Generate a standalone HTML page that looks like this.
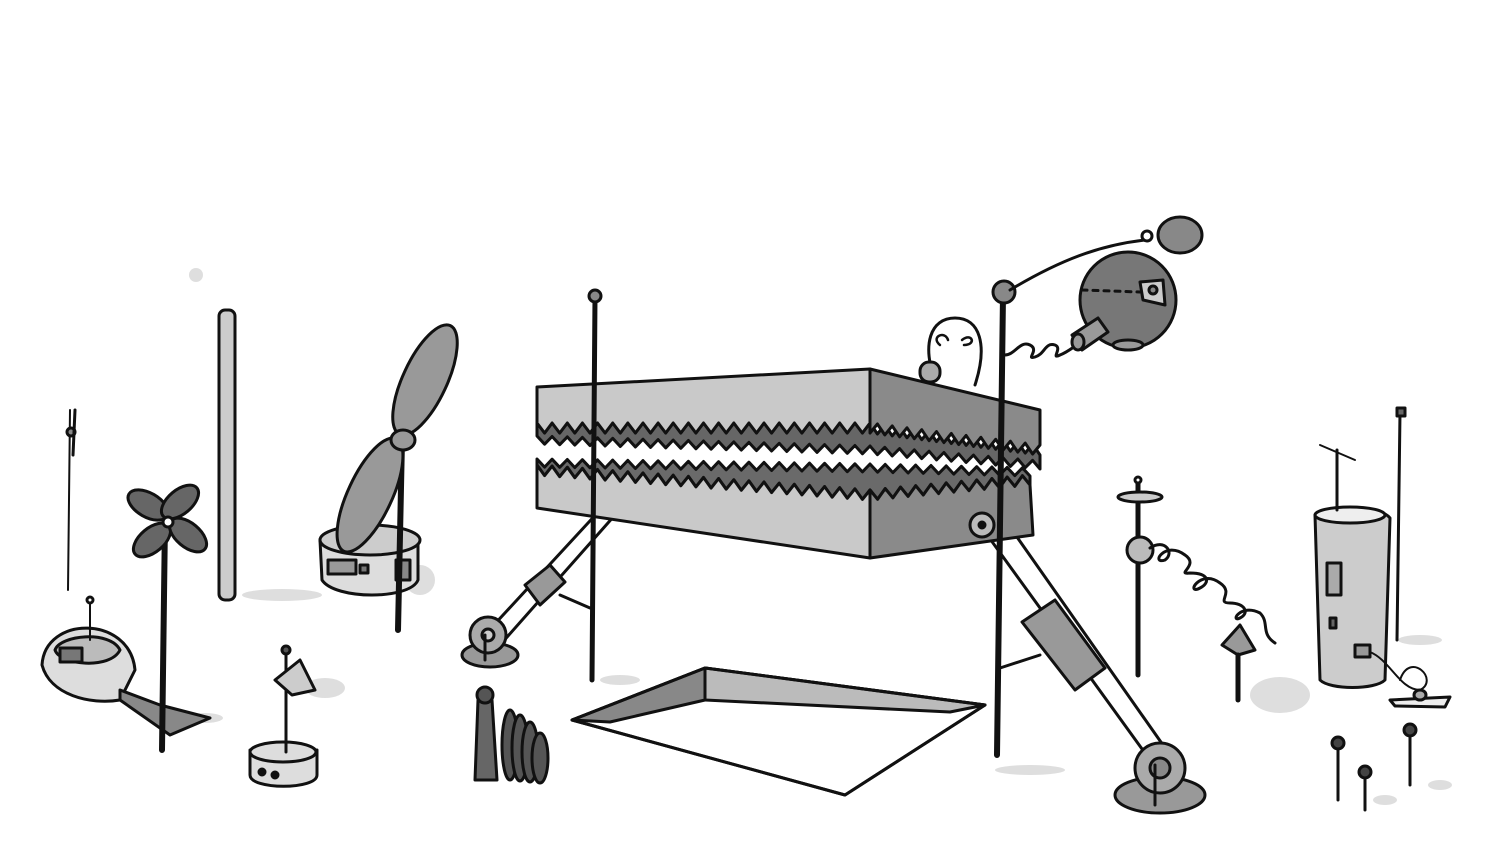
<!DOCTYPE html>
<html><head><meta charset="utf-8"><style>html,body{margin:0;padding:0;background:#fff}svg{display:block}</style></head>
<body>
<svg id="s" width="1500" height="844" viewBox="0 0 1500 844" xmlns="http://www.w3.org/2000/svg" stroke="#111" stroke-width="3" stroke-linejoin="round" stroke-linecap="round">
<g stroke="none" fill="#d6d6d6" opacity="0.8">
<ellipse cx="282" cy="595" rx="40" ry="6"/><ellipse cx="420" cy="580" rx="15" ry="15"/><ellipse cx="205" cy="718" rx="18" ry="5"/>
<ellipse cx="325" cy="688" rx="20" ry="10"/><ellipse cx="1280" cy="695" rx="30" ry="18"/><ellipse cx="1420" cy="640" rx="22" ry="5"/>
<ellipse cx="1440" cy="785" rx="12" ry="5"/><ellipse cx="1385" cy="800" rx="12" ry="5"/><ellipse cx="196" cy="275" rx="7" ry="7"/>
<ellipse cx="1030" cy="770" rx="35" ry="5"/><ellipse cx="620" cy="680" rx="20" ry="5"/>
</g>
<polygon points="572,720 705,668 985,705 845,795" fill="#fff"/>
<polygon points="572,720 705,668 705,700 610,722" fill="#888"/>
<polygon points="705,668 985,705 950,712 705,700" fill="#bbb"/>
<polygon points="572,720 705,668 985,705 845,795" fill="none"/>
<line x1="480" y1="640" x2="600" y2="510"/><line x1="500" y1="645" x2="615" y2="515"/>
<polygon points="525,585 550,565 565,582 540,605" fill="#999"/>
<line x1="560" y1="595" x2="590" y2="608"/>
<ellipse cx="490" cy="655" rx="28" ry="12" fill="#999"/><circle cx="488" cy="635" r="18" fill="#aaa"/><circle cx="488" cy="635" r="6" fill="#ccc"/>
<line x1="485" y1="635" x2="485" y2="660"/>
<line x1="980" y1="525" x2="1150" y2="760"/><line x1="1005" y1="520" x2="1170" y2="755"/>
<polygon points="1022,622 1055,600 1105,668 1075,690" fill="#999"/>
<line x1="1000" y1="668" x2="1040" y2="655"/>
<ellipse cx="1160" cy="795" rx="45" ry="18" fill="#999"/><circle cx="1160" cy="768" r="25" fill="#aaa"/><circle cx="1160" cy="768" r="10" fill="#888"/>
<line x1="1155" y1="765" x2="1155" y2="805"/>
<path d="M935,380 C922,345 930,318 955,318 C980,318 988,345 975,385" fill="#fff"/>
<path d="M940,345 c-10,-8 5,-15 8,-5 M962,340 c10,-8 15,5 2,5" fill="none" stroke-width="2.5"/>
<rect x="920" y="362" width="20" height="20" rx="9" fill="#aaa"/>
<g id="box"></g>
<circle cx="982" cy="525" r="12" fill="#bbb"/><circle cx="982" cy="525" r="3" fill="#111"/>
<line x1="595" y1="298" x2="592" y2="680" stroke-width="5"/><circle cx="595" cy="296" r="6" fill="#888"/>
<line x1="1003" y1="295" x2="997" y2="755" stroke-width="6"/><circle cx="1004" cy="292" r="11" fill="#888"/>
<path d="M1010,290 C1060,260 1100,245 1145,240" fill="none"/><circle cx="1147" cy="236" r="5" fill="#fff"/>
<path d="M1005,355 c10,0 15,-15 25,-10 c10,5 -5,15 5,12 c10,-3 10,-15 20,-12 c8,3 -5,15 5,10 c10,-4 15,-10 25,-15" fill="none"/>
<circle cx="1128" cy="300" r="48" fill="#777"/>
<ellipse cx="1180" cy="235" rx="22" ry="18" fill="#888"/>
<polygon points="1140,282 1163,280 1165,305 1143,300" fill="#ccc"/><circle cx="1153" cy="290" r="4" fill="#888"/>
<line x1="1082" y1="290" x2="1140" y2="292" stroke-dasharray="5 6"/>
<ellipse cx="1128" cy="345" rx="15" ry="5" fill="#999"/>
<polygon points="1072,335 1098,318 1108,332 1082,350" fill="#999"/><ellipse cx="1078" cy="342" rx="6" ry="8" fill="#999"/>
<line x1="70" y1="410" x2="68" y2="590" stroke-width="2"/><circle cx="71" cy="432" r="4" fill="#888"/>
<line x1="75" y1="410" x2="73" y2="455" stroke-width="3"/>
<rect x="219" y="310" width="16" height="290" rx="6" fill="#ccc"/>
<path d="M42,665 C45,615 130,615 135,670 L120,700 C90,705 50,695 42,665 Z" fill="#ddd"/>
<path d="M55,650 C60,635 110,630 120,650 C110,670 60,665 55,650 Z" fill="#bbb"/>
<rect x="60" y="648" width="22" height="14" fill="#777"/><line x1="90" y1="600" x2="90" y2="640" stroke-width="2"/><circle cx="90" cy="600" r="3" fill="#fff"/>
<polygon points="120,690 160,705 210,718 170,735 120,700" fill="#888"/>
<line x1="165" y1="520" x2="162" y2="750" stroke-width="6"/>
<g fill="#666"><ellipse cx="148" cy="505" rx="22" ry="12" transform="rotate(30 148 505)"/><ellipse cx="180" cy="502" rx="22" ry="12" transform="rotate(-40 180 502)"/><ellipse cx="152" cy="540" rx="22" ry="12" transform="rotate(-40 152 540)"/><ellipse cx="188" cy="535" rx="22" ry="12" transform="rotate(40 188 535)"/></g>
<circle cx="168" cy="522" r="5" fill="#fff"/>
<path d="M250,750 L250,775 C250,790 317,790 317,775 L317,750 Z" fill="#ddd"/><ellipse cx="283" cy="752" rx="33" ry="10" fill="#ddd"/>
<circle cx="262" cy="772" r="3" fill="#111"/><circle cx="275" cy="775" r="3" fill="#111"/>
<line x1="286" y1="650" x2="286" y2="752" stroke-width="3"/><circle cx="286" cy="650" r="4" fill="#555"/>
<polygon points="275,680 300,660 315,690 292,695" fill="#ccc"/>
<path d="M320,540 L322,580 C335,600 410,600 418,580 L418,540 Z" fill="#ddd"/><ellipse cx="370" cy="540" rx="50" ry="15" fill="#ccc"/>
<rect x="328" y="560" width="28" height="14" fill="#999"/><rect x="360" y="565" width="8" height="8" fill="#777"/><rect x="396" y="560" width="14" height="20" fill="#888"/>
<line x1="402" y1="440" x2="398" y2="630" stroke-width="6"/>
<ellipse cx="425" cy="380" rx="22" ry="60" fill="#999" transform="rotate(25 425 380)"/>
<ellipse cx="370" cy="495" rx="22" ry="62" fill="#999" transform="rotate(25 370 495)"/>
<ellipse cx="403" cy="440" rx="12" ry="10" fill="#999"/>
<path d="M475,780 L478,700 L492,700 L497,780 Z" fill="#666"/><circle cx="485" cy="695" r="8" fill="#555"/>
<g fill="#555"><ellipse cx="510" cy="745" rx="8" ry="35"/><ellipse cx="520" cy="748" rx="8" ry="33"/><ellipse cx="530" cy="752" rx="8" ry="30"/><ellipse cx="540" cy="758" rx="8" ry="25"/></g>
<line x1="1138" y1="480" x2="1138" y2="675" stroke-width="5"/><circle cx="1138" cy="480" r="3" fill="#fff"/>
<ellipse cx="1140" cy="497" rx="22" ry="5" fill="#ccc"/>
<circle cx="1140" cy="550" r="13" fill="#bbb"/>
<path d="M1150,548 c15,-10 25,5 15,12 c-15,5 0,-20 20,-5 c15,10 -10,20 5,18 c20,0 20,10 10,15 c-15,8 0,-20 20,-5 c15,10 -5,20 10,20 c15,0 20,10 10,15 c-10,5 0,-15 20,-5 c10,10 0,20 15,30" fill="none"/>
<polygon points="1222,645 1240,625 1255,650 1238,655" fill="#999"/><line x1="1238" y1="655" x2="1238" y2="700" stroke-width="5"/>
<line x1="1400" y1="413" x2="1397" y2="640" stroke-width="3"/><rect x="1397" y="408" width="8" height="8" fill="#666"/>
<path d="M1315,515 C1330,505 1380,505 1390,518 L1385,680 C1375,690 1330,690 1320,680 Z" fill="#ccc"/>
<ellipse cx="1350" cy="515" rx="35" ry="8" fill="#eee"/>
<rect x="1327" y="563" width="14" height="32" fill="#aaa"/><rect x="1330" y="618" width="6" height="10" fill="#666"/>
<rect x="1355" y="645" width="15" height="12" fill="#999"/>
<line x1="1320" y1="445" x2="1355" y2="460" stroke-width="2"/><line x1="1337" y1="450" x2="1337" y2="510" stroke-width="3"/>
<path d="M1370,652 C1390,660 1400,690 1420,690 C1440,680 1410,650 1400,680" fill="none" stroke-width="2"/>
<polygon points="1390,700 1450,697 1445,707 1395,706" fill="#eee"/><ellipse cx="1420" cy="695" rx="6" ry="5" fill="#aaa"/>
<line x1="1338" y1="745" x2="1338" y2="800" stroke-width="3"/><circle cx="1338" cy="743" r="6" fill="#444"/>
<line x1="1410" y1="733" x2="1410" y2="785" stroke-width="3"/><circle cx="1410" cy="730" r="6" fill="#444"/>
<line x1="1365" y1="775" x2="1365" y2="810" stroke-width="3"/><circle cx="1365" cy="772" r="6" fill="#444"/>
</svg>
<script>
function zz(x1,y1,x2,y2,a){var n=Math.max(2,Math.round(Math.abs(x2-x1)/7.5));var p=[];for(var i=0;i<=n;i++){var t=i/n;p.push([x1+(x2-x1)*t,y1+(y2-y1)*t+(i%2?a:-a)]);}return p;}
function poly(pts,fill){var e=document.createElementNS("http://www.w3.org/2000/svg","polygon");e.setAttribute("points",pts.map(function(p){return p[0].toFixed(1)+","+p[1].toFixed(1)}).join(" "));e.setAttribute("fill",fill);document.getElementById("box").appendChild(e);}
var fA=zz(537,428,870,428,5).concat(zz(870,428,1040,450,5).slice(1));
var bA=zz(537,440,870,450,4).concat(zz(870,450,1040,465,4).slice(1));
poly(fA.concat(bA.slice().reverse()),"#666");
poly([[537,387],[870,369]].concat(zz(870,428,537,428,5)),"#c9c9c9");
poly([[870,369],[1040,410]].concat(zz(1040,450,870,428,5)),"#8a8a8a");
var bB=zz(537,463,870,468,4).concat(zz(870,468,1030,472,4).slice(1));
var fB=zz(537,470,870,495,5).concat(zz(870,495,1030,480,5).slice(1));
poly(bB.concat(fB.slice().reverse()),"#6a6a6a");
poly(zz(537,470,870,495,5).concat([[870,558],[537,508]]),"#c9c9c9");
poly(zz(870,495,1030,480,5).concat([[1033,535],[870,558]]),"#8a8a8a");
</script>
</body></html>
